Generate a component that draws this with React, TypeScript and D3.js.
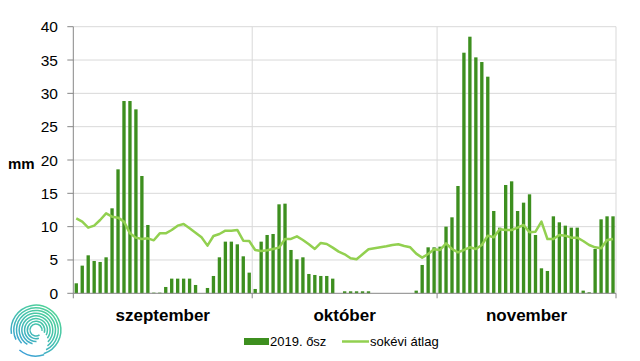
import React from "react";
import * as d3 from "d3";

const months = ["szeptember", "október", "november"];
const monthDays = [30, 31, 30];
const yTicks = [0, 5, 10, 15, 20, 25, 30, 35, 40];

const rainSep = [1.5, 4.15, 5.7, 4.85, 4.7, 5.4, 12.75, 18.6, 28.85, 28.85, 27.6, 17.6, 10.25, 0.1, 0.1, 0.95, 2.2, 2.2, 2.2, 2.2, 1.25, 0, 0.8, 2.6, 5.4, 7.75, 7.75, 7.35, 5.55, 3.1];
const rainOct = [0.65, 7.75, 8.75, 8.9, 13.35, 13.45, 6.5, 5.1, 5.4, 2.9, 2.75, 2.6, 2.6, 2.2, 0, 0.3, 0.3, 0.3, 0.3, 0.3, 0, 0, 0, 0, 0, 0, 0, 0.4, 4.25, 6.9, 6.9];
const rainNov = [7.0, 10, 11.4, 16.1, 36.1, 38.5, 35.4, 34.7, 32.5, 12.35, 9.85, 16.25, 16.8, 12.35, 13.6, 14.85, 8.75, 3.75, 3.35, 11.55, 10.65, 10.15, 9.85, 9.85, 0.4, 0.15, 6.65, 11.1, 11.55, 11.55];

const avgSep = [11.25, 10.75, 9.85, 10.15, 11, 12, 11.5, 11.35, 10.75, 9, 8.35, 8.15, 8.25, 7.95, 9, 9, 9.5, 10.15, 10.4, 9.75, 9.1, 8.4, 7.15, 8.6, 8.9, 9.4, 9.4, 9.5, 7.9, 7.85];
const avgOct = [6.5, 6.35, 6.45, 6.65, 6.85, 8.15, 8.15, 8.55, 8, 7.35, 6.65, 7.55, 7.4, 6.85, 6.25, 5.85, 5.25, 5.1, 5.85, 6.6, 6.75, 6.9, 7.05, 7.25, 7.35, 7.1, 6.9, 5.95, 5.35, 5.9, 6.6];
const avgNov = [6.5, 7.5, 6.65, 6.15, 6.5, 6.9, 6.65, 7.25, 8.65, 8.4, 9.6, 9.5, 9.5, 9.85, 10.25, 9.15, 9.25, 10.75, 8.15, 8.15, 8.75, 8.65, 8.35, 8.35, 7.85, 7.25, 6.9, 6.75, 8, 8.15];

const seriesNames = ["2019. ősz", "sokévi átlag"];

export default function App() {
  const rain = [...rainSep, ...rainOct, ...rainNov];
  const avg = [...avgSep, ...avgOct, ...avgNov];
  const idx = d3.range(rain.length);

  const left = 73.3, right = 616, top = 26.7, bottom = 293.3;
  const x = d3.scaleBand<number>().domain(idx).range([left, right]).paddingInner(0.44).paddingOuter(0.22);
  const y = d3.scaleLinear().domain([0, 40]).range([bottom, top]);
  const step = x.step();
  const bw = x.bandwidth();
  const cx = (i: number) => (x(i) as number) + bw / 2;

  const line = d3.line<number>().x((_, i) => cx(i)).y((d) => y(d));

  const bounds: number[] = [];
  let acc = 0;
  monthDays.forEach((n) => { acc += n; bounds.push(left + step * acc); });
  const starts = [0, ...monthDays.slice(0, -1).map((_, i) => d3.sum(monthDays.slice(0, i + 1)))];

  const font = "'Liberation Sans', Arial, sans-serif";

  // logo: spiral of arcs
  const lcx = 36, lcy = 330;
  const logoArcs = d3.range(8).map((i) => {
    const t = i / 7;
    const r = 6 + i * 2.7;
    const a0 = Math.PI * (0.3 + t * 0.65);
    const a1 = Math.PI * (2.05 + t * 0.35);
    const p = d3.path();
    p.arc(lcx, lcy, r, a0, a1, false);
    return p.toString();
  });
  const bp = d3.path();
  bp.arc(lcx, lcy, 26, Math.PI * 0.4, Math.PI * 0.72, false);
  logoArcs.push(bp.toString());

  return (
    <svg width={640} height={361} style={{ position: "absolute", left: 0, top: 0, background: "#fff" }}>
      <defs>
        <linearGradient id="lg" x1={lcx + 20} y1={lcy - 24} x2={lcx - 18} y2={lcy + 24} gradientUnits="userSpaceOnUse">
          <stop offset="0" stopColor="#52d693" />
          <stop offset="0.5" stopColor="#44bfb0" />
          <stop offset="1" stopColor="#3a9bdb" />
        </linearGradient>
      </defs>
      {/* gridlines */}
      {yTicks.filter((t) => t > 0).map((t) => (
        <line key={t} x1={left} x2={right} y1={y(t)} y2={y(t)} stroke="#d9d9d9" strokeWidth={1} />
      ))}
      {bounds.map((b, i) => (
        <line key={i} x1={b} x2={b} y1={top} y2={bottom} stroke="#d9d9d9" strokeWidth={1} />
      ))}
      {/* bars */}
      {rain.map((v, i) => (
        v > 0 ? <rect key={i} x={x(i)} y={y(v)} width={bw} height={bottom - y(v)} fill="#3d8f1f" /> : null
      ))}
      {/* line */}
      <path d={line(avg) || ""} fill="none" stroke="#92d050" strokeWidth={2.5} strokeLinejoin="round" />
      {/* axes */}
      <line x1={left} x2={left} y1={top} y2={bottom} stroke="#868686" />
      <line x1={left} x2={right} y1={bottom} y2={bottom} stroke="#868686" />
      {yTicks.map((t) => (
        <g key={t}>
          <line x1={left - 6} x2={left} y1={y(t)} y2={y(t)} stroke="#868686" />
          <text x={58} y={y(t) + 5.5} textAnchor="end" fontFamily={font} fontSize={15.5} fill="#000">{t}</text>
        </g>
      ))}
      {[left, ...bounds].map((b, i) => (
        <line key={i} x1={b} x2={b} y1={bottom} y2={bottom + 5} stroke="#868686" />
      ))}
      <text x={8} y={169} fontFamily={font} fontSize={15} fontWeight="bold" fill="#000">mm</text>
      {months.map((m, i) => (
        <text key={m} x={left + step * (starts[i] + monthDays[i] / 2)} y={321} textAnchor="middle" fontFamily={font} fontSize={17} fontWeight="bold" fill="#000">{m}</text>
      ))}
      {/* legend */}
      <rect x={244} y={338} width={25} height={7} fill="#3d8f1f" />
      <text x={270} y={346} fontFamily={font} fontSize={13} fill="#000">{seriesNames[0]}</text>
      <line x1={342} x2={369} y1={341.5} y2={341.5} stroke="#92d050" strokeWidth={2.5} />
      <text x={370} y={346} fontFamily={font} fontSize={13} fill="#000">{seriesNames[1]}</text>
      {/* logo */}
      {logoArcs.map((d, i) => (
        <path key={i} d={d} fill="none" stroke="url(#lg)" strokeWidth={1.5} />
      ))}
    </svg>
  );
}
